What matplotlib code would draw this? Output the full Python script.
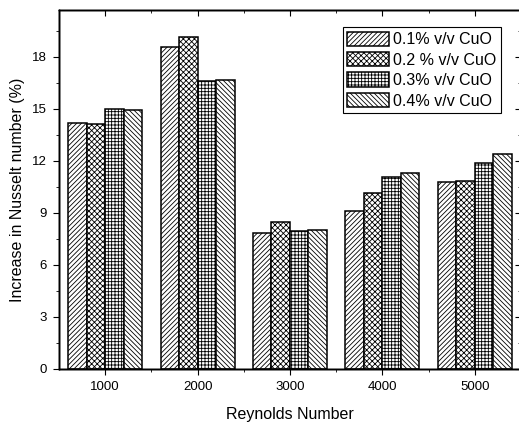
from matplotlib import pyplot as plt
import numpy as np

plt.rcParams['font.family'] = ['Liberation Sans', 'DejaVu Sans']
plt.rcParams['hatch.linewidth'] = 0.6

reynolds = [1000, 2000, 3000, 4000, 5000]
labels = ['0.1% v/v CuO', '0.2 % v/v CuO', '0.3% v/v CuO', '0.4% v/v CuO']
cuo_01 = [14.2, 18.55, 7.87, 9.12, 10.77]
cuo_02 = [14.15, 19.15, 8.48, 10.17, 10.85]
cuo_03 = [15.0, 16.6, 7.94, 11.08, 11.85]
cuo_04 = [14.93, 16.66, 8.02, 11.31, 12.37]
hatches = ['/' * 7, 'x' * 6, '+' * 5, '\\' * 7]

fig = plt.figure(figsize=(5.19, 4.22), dpi=100)
ax = fig.add_axes([0.1137, 0.1256, 0.89, 0.8507])

series = [cuo_01, cuo_02, cuo_03, cuo_04]
width = 200
x = np.array(reynolds)
for i, vals in enumerate(series):
    ax.bar(x + (i - 1.5) * width, vals, width=width, color='white',
           edgecolor='black', linewidth=1.1, hatch=hatches[i], label=labels[i])

ax.set_xlim(500, 5500)
ax.set_ylim(0, 20.7)
ax.set_xticks(reynolds)
ax.set_xticks([1500, 2500, 3500, 4500], minor=True)
ax.set_yticks(np.arange(0, 19, 3))
ax.set_yticks(np.arange(1.5, 20.7, 3), minor=True)
ax.tick_params(axis='both', which='both', direction='out', labelsize=9.5,
               top=False, right=False)
ax.tick_params(which='major', length=4, pad=5)
ax.tick_params(which='minor', length=2)

# mirrored ticks on top and right, pointing inward
ax2 = ax.twinx()
ax2.set_ylim(ax.get_ylim())
ax2.set_yticks(np.arange(0, 19, 3))
ax2.set_yticks(np.arange(1.5, 20.7, 3), minor=True)
ax2.tick_params(axis='y', which='both', direction='in', labelright=False)
ax2.tick_params(which='major', length=4)
ax2.tick_params(which='minor', length=2)
ax3 = ax.twiny()
ax3.set_xlim(ax.get_xlim())
ax3.set_xticks(reynolds)
ax3.set_xticks([1500, 2500, 3500, 4500], minor=True)
ax3.tick_params(axis='x', which='both', direction='in', labeltop=False)
ax3.tick_params(which='major', length=4)
ax3.tick_params(which='minor', length=2)

for a in (ax, ax2, ax3):
    for s in a.spines.values():
        s.set_linewidth(1.0)

ax.set_xlabel('Reynolds Number', fontsize=11.5, labelpad=10)
ax.set_ylabel('Increase in Nusselt number (%)', fontsize=11.5, labelpad=5)

leg = ax.legend(loc='upper right', bbox_to_anchor=(0.957, 0.953),
                borderaxespad=0, fontsize=11.5, frameon=True, fancybox=False,
                edgecolor='black', framealpha=1, handlelength=2.6,
                handleheight=1.0, labelspacing=0.3, handletextpad=0.25,
                borderpad=0.3)
leg.get_frame().set_linewidth(0.8)

plt.savefig('out.png', dpi=100)
